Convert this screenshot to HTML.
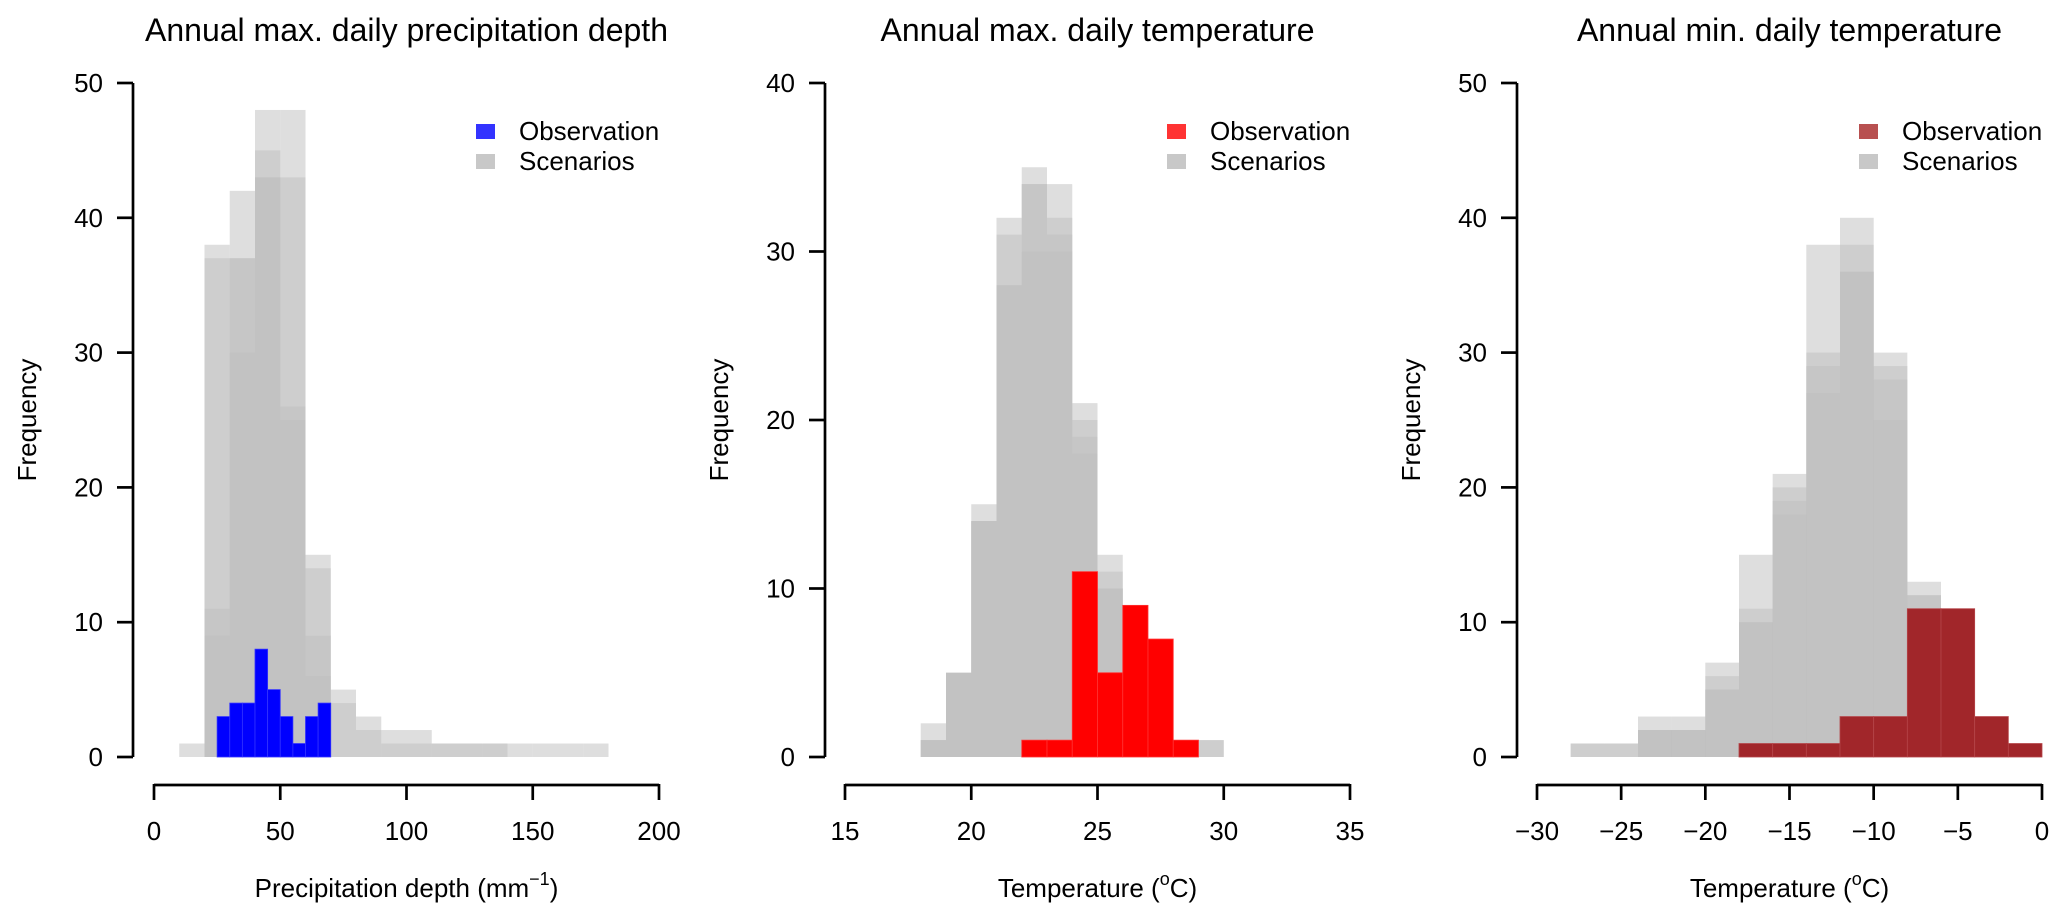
<!DOCTYPE html>
<html><head><meta charset="utf-8"><style>
body{margin:0;background:#fff;}
svg{display:block;font-family:"Liberation Sans",Arial,sans-serif;}
</style></head><body>
<svg id="chart" width="2067" height="919" viewBox="0 0 2067 919" xmlns="http://www.w3.org/2000/svg"></svg>
<script>
// Panel 1: precipitation
const p1ScenBins = [10,20,30,40,50,60,70,80,90,100,110,120,130,140,150,160,170];
const p1Scen1 = [1,38,42,48,48,15,5,3,2,2,1,1,1,1,1,1,1];
const p1Scen2 = [0,37,37,45,43,14,4,2,1,1,1,1,1,0,0,0,0];
const p1Scen3 = [0,11,37,43,26,9,0,0,0,0,0,0,0,0,0,0,0];
const p1Scen4 = [0,9,30,43,25,6,0,0,0,0,0,0,0,0,0,0,0];
const p1ObsBins = [25,30,35,40,45,50,55,60,65];
const p1Obs = [3,4,4,8,5,3,1,3,4];
const p1XTicks = [0,50,100,150,200];
const p1YTicks = [0,10,20,30,40,50];
// Panel 2: max temperature
const p2ScenBins = [18,19,20,21,22,23,24,25,26,27,28,29];
const p2Scen1 = [2,5,15,32,35,34,21,12,0,0,0,1];
const p2Scen2 = [1,5,14,31,34,32,20,11,0,0,0,1];
const p2Scen3 = [1,5,14,28,34,31,19,10,0,0,0,0];
const p2Scen4 = [1,5,14,28,30,30,18,10,0,0,0,0];
const p2ObsBins = [22,23,24,25,26,27,28];
const p2Obs = [1,1,11,5,9,7,1];
const p2XTicks = [15,20,25,30,35];
const p2YTicks = [0,10,20,30,40];
// Panel 3: min temperature
const p3ScenBins = [-28,-26,-24,-22,-20,-18,-16,-14,-12,-10,-8];
const p3Scen1 = [1,1,3,3,7,15,21,38,40,30,13];
const p3Scen2 = [1,1,2,2,6,11,20,30,38,29,12];
const p3Scen3 = [0,0,2,2,5,10,19,29,36,28,12];
const p3Scen4 = [0,0,2,2,5,10,18,27,36,25,11];
const p3ObsBins = [-18,-16,-14,-12,-10,-8,-6,-4,-2];
const p3Obs = [1,1,1,3,3,11,11,3,1];
const p3XTicks = [-30,-25,-20,-15,-10,-5,0];
const p3YTicks = [0,10,20,30,40,50];

const NS = "http://www.w3.org/2000/svg";
const svg = document.getElementById('chart');
function mk(tag, attrs, parent){const e=document.createElementNS(NS,tag);for(const k in attrs)e.setAttribute(k,attrs[k]);(parent||svg).appendChild(e);return e;}
function fmt(v){return v<0?'\u2212'+Math.abs(v):String(v);}

const Y0=757, YH=674;
function panel(cfg){
  const g=mk('g',{});
  
  
  const W=505;
  const xs=v=>cfg.x0+(v-cfg.xmin)/(cfg.xmax-cfg.xmin)*W;
  const ys=v=>Y0-v/cfg.ymax*YH;
  cfg.scen.forEach((s,si)=>{
    s.forEach((h,i)=>{
      if(h<=0) return;
      const a=cfg.scenBins[i], b=a+cfg.bw;
      const r=mk('rect',{x:xs(a),y:ys(h),width:xs(b)-xs(a),height:ys(0)-ys(h),fill:'#bebebe','fill-opacity':0.5},g);
      
      
    });
  });
  cfg.obs.forEach((h,i)=>{
    if(h<=0) return;
    const a=cfg.obsBins[i], b=a+cfg.obw;
    const r=mk('rect',{x:xs(a),y:ys(h),width:xs(b)-xs(a),height:ys(0)-ys(h),fill:cfg.col,stroke:cfg.edge,'stroke-width':0.8},g);
    
    
  });
  const ax=cfg.yax;
  const yl=mk('line',{x1:ax,x2:ax,y1:ys(0),y2:ys(cfg.ymax),stroke:'#000','stroke-width':2.7},g);
  
  
  cfg.yticks.forEach(t=>{
    mk('line',{x1:ax-16,x2:ax,y1:ys(t),y2:ys(t),stroke:'#000','stroke-width':2.7},g);
    const tx=mk('text',{x:ax-30,y:ys(t)+9,'font-size':26,'text-anchor':'end'},g);
    tx.textContent=t;
    
    
  });
  const yt=mk('text',{x:0,y:0,'font-size':26,'text-anchor':'middle',transform:`translate(${ax-97},420) rotate(-90)`},g);
  yt.textContent='Frequency';
  
  
  const xl=mk('line',{x1:xs(cfg.xticks[0]),x2:xs(cfg.xticks[cfg.xticks.length-1]),y1:785,y2:785,stroke:'#000','stroke-width':2.7},g);
  
  
  cfg.xticks.forEach(t=>{
    mk('line',{x1:xs(t),x2:xs(t),y1:784,y2:800,stroke:'#000','stroke-width':2.7},g);
    const tx=mk('text',{x:xs(t),y:840,'font-size':26,'text-anchor':'middle'},g);
    tx.textContent=fmt(t);
    
    
  });
  const xt=mk('text',{x:cfg.x0+W/2,y:897,'font-size':26,'text-anchor':'middle'},g);
  xt.innerHTML=cfg.xlab;
  
  
  const tt=mk('text',{x:cfg.x0+W/2,y:41,'font-size':32,'text-anchor':'middle'},g);
  tt.textContent=cfg.title;
  
  
  const lx=cfg.x0+322;
  const l1=mk('rect',{x:lx,y:124,width:19,height:15,fill:cfg.legCol},g);
  
  
  const l2=mk('rect',{x:lx,y:154,width:19,height:15,fill:'#c8c8c8'},g);
  
  
  const t1=mk('text',{x:lx+43,y:140,'font-size':26},g);
  t1.textContent='Observation';
  
  
  const t2=mk('text',{x:lx+43,y:170,'font-size':26},g);
  t2.textContent='Scenarios';
  
  
}
panel({name:'precipitation-panel',x0:154,yax:133,xmin:0,xmax:200,ymax:50,bw:10,obw:5,
  scenBins:p1ScenBins,scen:[p1Scen1,p1Scen2,p1Scen3,p1Scen4],obsBins:p1ObsBins,obs:p1Obs,
  col:'#0000ff',edge:'#3333ff',legCol:'#3333ff',xticks:p1XTicks,yticks:p1YTicks,
  xlab:'Precipitation depth (mm<tspan dy="-12" font-size="18">\u22121</tspan><tspan dy="12">)</tspan>',
  title:'Annual max. daily precipitation depth'});
panel({name:'max-temperature-panel',x0:845,yax:825,xmin:15,xmax:35,ymax:40,bw:1,obw:1,
  scenBins:p2ScenBins,scen:[p2Scen1,p2Scen2,p2Scen3,p2Scen4],obsBins:p2ObsBins,obs:p2Obs,
  col:'#ff0000',edge:'#ff3333',legCol:'#ff3333',xticks:p2XTicks,yticks:p2YTicks,
  xlab:'Temperature (<tspan dy="-12" font-size="18">o</tspan><tspan dy="12">C)</tspan>',
  title:'Annual max. daily temperature'});
panel({name:'min-temperature-panel',x0:1537,yax:1517,xmin:-30,xmax:0,ymax:50,bw:2,obw:2,
  scenBins:p3ScenBins,scen:[p3Scen1,p3Scen2,p3Scen3,p3Scen4],obsBins:p3ObsBins,obs:p3Obs,
  col:'#a1262a',edge:'#b54448',legCol:'#b85050',xticks:p3XTicks,yticks:p3YTicks,
  xlab:'Temperature (<tspan dy="-12" font-size="18">o</tspan><tspan dy="12">C)</tspan>',
  title:'Annual min. daily temperature'});
</script>
</body></html>
